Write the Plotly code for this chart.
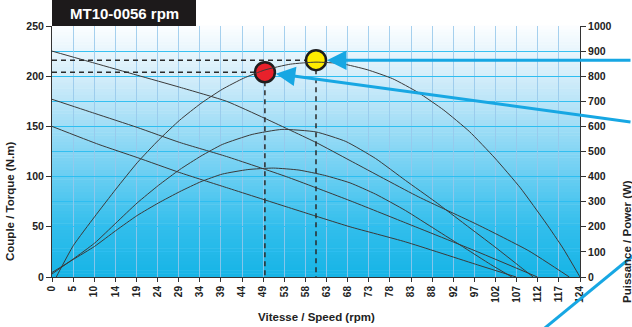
import plotly.graph_objects as go

# ---------------- data ----------------
x_tick_labels = ["0", "5", "10", "14", "19", "24", "29", "34", "39", "44", "49", "53", "58",
                 "63", "68", "73", "78", "83", "88", "92", "97", "102", "107", "112", "117", "124"]
x_max = 124

# torque curves (N.m) vs speed (rpm)
t1_rpm = [0, 10, 20, 30, 41, 50, 62, 70, 86, 100, 112, 121.5]
t1_nm = [225, 213, 201, 189, 175, 158, 134, 116, 80, 52, 26, 0]
t2_rpm = [0, 10, 20, 30, 41, 55, 70, 83, 100, 114]
t2_nm = [177, 163, 149, 134, 120, 100, 76, 54, 25, 0]
t3_rpm = [0, 11, 20, 30, 41, 55, 70, 83, 100, 109]
t3_nm = [150, 132, 119, 104, 89, 70, 50, 35, 12, 0]

# power curves (W) vs speed (rpm)
p1_rpm = [1, 5, 10, 15, 20, 25, 30, 35, 40, 45, 50, 56, 62, 68, 74, 80, 86, 92, 98, 104, 110, 116, 120, 124]
p1_w = [0, 125, 240, 350, 455, 545, 625, 692, 748, 792, 825, 848, 856, 850, 826, 790, 735, 665, 580, 474, 355, 215, 115, 0]
p2_rpm = [0, 5, 10, 15, 20, 25, 30, 35, 40, 47, 54, 62, 69, 76, 83, 90, 97, 104, 110, 113]
p2_w = [12, 72, 135, 215, 295, 365, 428, 482, 528, 568, 588, 578, 540, 472, 385, 300, 210, 120, 40, 0]
p3_rpm = [0, 5, 10, 15, 20, 25, 30, 35, 40, 46, 52, 58, 64, 70, 76, 83, 90, 97, 103, 108]
p3_w = [18, 70, 122, 185, 245, 295, 340, 380, 410, 428, 434, 426, 405, 375, 330, 265, 190, 115, 50, 0]

# highlighted operating points
pt_rpm = [50, 62]
pt_nm = [204, 216]
pt_colors = ["#e8212b", "#ffec00"]

title_text = "MT10-0056 rpm"

# ---------------- figure ----------------
fig = go.Figure()

line_style = dict(color="#3a3a3a", width=1)
for xs, ys in [(t1_rpm, t1_nm), (t2_rpm, t2_nm), (t3_rpm, t3_nm)]:
    fig.add_trace(go.Scatter(x=xs, y=ys, mode="lines", line=dict(shape="spline", smoothing=0.5, **line_style),
                             hoverinfo="skip", showlegend=False))
for xs, ys in [(p1_rpm, p1_w), (p2_rpm, p2_w), (p3_rpm, p3_w)]:
    fig.add_trace(go.Scatter(x=xs, y=ys, mode="lines", yaxis="y2",
                             line=dict(shape="spline", smoothing=0.5, **line_style),
                             hoverinfo="skip", showlegend=False))

# dashed guide lines
for r, t in zip(pt_rpm, pt_nm):
    fig.add_trace(go.Scatter(x=[0, r], y=[t, t], mode="lines",
                             line=dict(color="#2a2a2a", width=1.5, dash="5px,4px"),
                             hoverinfo="skip", showlegend=False, cliponaxis=False))
    fig.add_trace(go.Scatter(x=[r, r], y=[t, 0], mode="lines",
                             line=dict(color="#2a2a2a", width=1.5, dash="5px,4px"),
                             hoverinfo="skip", showlegend=False))

fig.add_trace(go.Scatter(x=pt_rpm, y=pt_nm, mode="markers",
                         marker=dict(size=20, color=pt_colors, line=dict(color="#1e1e1e", width=2.5)),
                         hoverinfo="skip", showlegend=False, cliponaxis=False))

# ---------------- background gradient ----------------
stops = [(0.0, (22, 180, 230)), (0.2, (50, 190, 236)), (0.4, (105, 206, 242)),
         (0.6, (160, 221, 246)), (0.8, (212, 237, 250)), (1.0, (252, 254, 255))]


def grad(f):
    for (f0, c0), (f1, c1) in zip(stops[:-1], stops[1:]):
        if f0 <= f <= f1:
            u = (f - f0) / (f1 - f0)
            return "rgb(%d,%d,%d)" % tuple(round(a + (b - a) * u) for a, b in zip(c0, c1))
    return "rgb(255,255,255)"


shapes = []
n = 80
for i in range(n):
    y0 = i / n
    y1 = (i + 1) / n
    shapes.append(dict(type="rect", xref="x domain", yref="y domain", x0=0, x1=1, y0=y0, y1=y1 + 0.002,
                       fillcolor=grad((i + 0.5) / n), line=dict(width=0), layer="below"))

# title box
shapes.append(dict(type="rect", xref="paper", yref="paper", x0=0, x1=144 / 528, y0=1, y1=1 + 27 / 251,
                   fillcolor="#1d1a1b", line=dict(width=0), layer="above"))
# third pointer line (off to the lower right)
shapes.append(dict(type="line", xref="paper", yref="paper",
                   x0=(540 - 52) / 528, y0=(277 - 332) / 251, x1=(640 - 52) / 528, y1=(277 - 250) / 251,
                   line=dict(color="#17a7e3", width=3), layer="above"))

annotations = [
    dict(text=title_text, xref="paper", yref="paper", x=72 / 528, y=1 + 13 / 251, showarrow=False,
         font=dict(family="Liberation Sans", size=15, color="white", weight="bold"), xanchor="center",
         yanchor="middle"),
    dict(text="Couple / Torque (N.m)", xref="paper", yref="paper", x=-42 / 528, y=(277 - 202) / 251,
         textangle=-90, showarrow=False, xanchor="center", yanchor="middle",
         font=dict(family="Liberation Sans", size=11.5, color="#222", weight="bold")),
    dict(text="Puissance / Power (W)", xref="paper", yref="paper", x=(627 - 52) / 528, y=(277 - 242) / 251,
         textangle=-90, showarrow=False, xanchor="center", yanchor="middle",
         font=dict(family="Liberation Sans", size=11.5, color="#222", weight="bold")),
    dict(text="Vitesse / Speed (rpm)", xref="paper", yref="paper", x=(316 - 52) / 528, y=(277 - 317) / 251,
         showarrow=False, xanchor="center", yanchor="middle",
         font=dict(family="Liberation Sans", size=11.5, color="#222", weight="bold")),
    # arrows to the operating points
    dict(x=pt_rpm[1], y=pt_nm[1], xref="x", yref="y", text="", showarrow=True, arrowhead=2,
         arrowsize=1.3, arrowwidth=3, arrowcolor="#17a7e3", ax=320, ay=0, standoff=11),
    dict(x=pt_rpm[0], y=pt_nm[0], xref="x", yref="y", text="", showarrow=True, arrowhead=2,
         arrowsize=1.3, arrowwidth=3, arrowcolor="#17a7e3", ax=375, ay=50, standoff=11),
]

tick_font = dict(family="Liberation Sans", size=10.5, color="#222", weight="bold")

fig.update_layout(
    width=632, height=327,
    margin=dict(l=52, r=52, t=26, b=50),
    paper_bgcolor="white", plot_bgcolor="rgba(0,0,0,0)",
    shapes=shapes, annotations=annotations,
    xaxis=dict(range=[0, x_max], tickvals=[i * x_max / 25 for i in range(26)], ticktext=x_tick_labels,
               tickangle=-90, tickfont=dict(family="Liberation Sans", size=10, color="#222", weight="bold"),
               showgrid=True, gridcolor="rgba(150,200,235,0.85)", gridwidth=1,
               showline=True, linecolor="#333", linewidth=1, ticks="outside", ticklen=4, tickcolor="#333",
               zeroline=False, fixedrange=True),
    yaxis=dict(range=[0, 250], tickvals=[0, 50, 100, 150, 200, 250], tickfont=tick_font,
               showgrid=True, gridcolor="rgba(45,190,240,0.95)", gridwidth=1,
               minor=dict(dtick=25, showgrid=True, gridcolor="rgba(45,190,240,0.95)", gridwidth=1),
               showline=True, linecolor="#333", linewidth=1, ticks="outside", ticklen=5, tickcolor="#333",
               zeroline=False, fixedrange=True),
    yaxis2=dict(range=[0, 1000], overlaying="y", side="right", tickvals=list(range(0, 1001, 100)),
                tickfont=tick_font, showgrid=False, showline=True, linecolor="#333", linewidth=1,
                ticks="outside", ticklen=5, tickcolor="#333", zeroline=False, fixedrange=True),
)

fig.write_html("out.html")
